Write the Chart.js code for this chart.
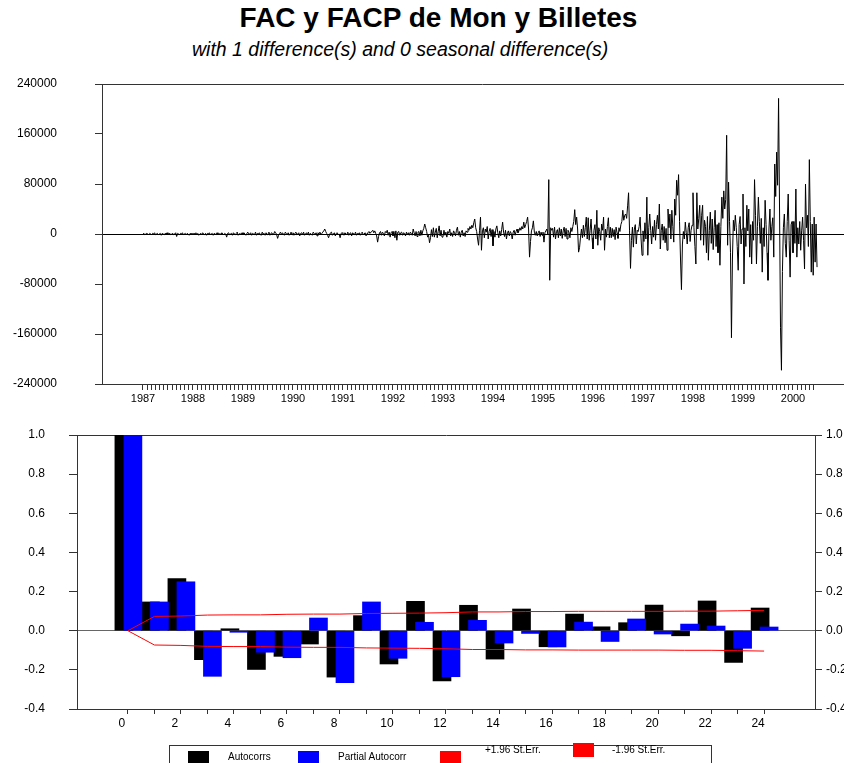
<!DOCTYPE html>
<html>
<head>
<meta charset="utf-8">
<script src="https://cdn.jsdelivr.net/npm/chart.js@4.4.1/dist/chart.umd.min.js"></script>
<style>
  html, body { margin: 0; padding: 0; background: #fff; }
  body { width: 844px; height: 763px; overflow: hidden; position: relative; font-family: "Liberation Sans", Arial, sans-serif; }
  #title { position: absolute; left: 0; top: 2px; width: 877px; text-align: center; font-weight: bold; font-size: 28px; }
  #subtitle { position: absolute; left: 192px; top: 38px; font-style: italic; font-size: 19.5px; }
  #seriesChart { position: absolute; left: 0; top: 70px; }
  #acfChart { position: absolute; left: 0; top: 420px; }
  #legend { position: absolute; left: 169px; top: 745px; width: 541px; height: 40px; border: 1px solid #333; font-size: 10px; }
  #legend .box { position: absolute; width: 21px; height: 14px; }
  #legend .txt { position: absolute; line-height: 12px; white-space: nowrap; color: #000; }
</style>
</head>
<body>
<div id="title">FAC y FACP de Mon y Billetes</div>
<div id="subtitle">with 1 difference(s) and 0 seasonal difference(s)</div>
<canvas id="seriesChart" width="870" height="340"></canvas>
<canvas id="acfChart" width="844" height="360"></canvas>
<div id="legend"></div>

<script>
// Differenced series, weekly, in thousands (one row per year)
const startYear = 1987;
const weeksPerYear = 52;
const weeklyChange = [
  // 1987
  0, 1, -1, 0, 1, 0, -1, 1, 0, -1, 1, 0, 2, -1, 0, 1, -1, 0, 1, -2, 1, 0, -1, 1, 0, 2, -1, 0, 1, -1,
  0, 1, -1, 0, 2, -4, 1, 0, -1, 1, 0, 2, -1, 0, 1, -1, 1, 0, -2, 1, 0, 1,
  // 1988
  -1, 1, 0, 2, -1, 1, -2, 0, 1, -1, 2, 0, -1, 1, -2, 1, 0, 2, -1, 0, 1, -2, 1, 0, -1, 2, 0, -1, 1, -1,
  2, 0, -1, 1, 0, -5, 1, 2, -1, 0, 1, -2, 2, 0, -1, 1, 3, -2, 0, 1, -1, 2,
  // 1989
  -1, 2, 0, -2, 1, 3, -1, 0, 2, -2, 1, 0, -1, 3, -2, 1, 0, 2, -1, -2, 3, 0, 1, -2, 2, -1, 0, 3, -2, 1,
  2, -1, 0, 4, 2, -1, -7, -2, 1, 3, -1, 2, 0, -2, 3, 1, -1, 2, -2, 0, 3, -1,
  // 1990
  2, -2, 1, 3, -1, 0, 2, -3, 1, 2, -1, 3, -2, 0, 2, -1, 3, -2, 1, 0, -2, 3, 1, -1, 2, -3, 2, 0, 3, -1,
  1, 3, 5, 8, 4, 1, -2, -6, -1, 2, 3, -2, 0, 2, -3, 1, 2, -1, 0, -6, 1, 2,
  // 1991
  1, -2, 2, 0, -1, 3, -2, 1, 2, -3, 2, 0, -1, 3, -2, 1, 0, 2, -2, 1, 3, -1, 0, 2, -3, 1, 2, 4, 1, 3,
  4, 6, 2, 5, 1, -3, -13, -4, 2, 4, -2, 3, 1, -3, 4, 2, 6, -2, 3, -5, 2, 4,
  // 1992
  -3, 4, -6, 5, -10, 3, 4, -2, 2, 3, -2, 2, 1, -3, 3, -1, 2, -2, 3, 1, -2, 8, 2, -3, 4, -4, 3, 4, -3, 6,
  -2, 5, 9, 16, 10, 4, -5, -2, -14, -6, 7, -4, 10, -5, 3, 9, -6, 4, 13, -3, 6, -5,
  // 1993
  -4, 6, -2, 3, -5, 4, 1, 8, -3, 2, -4, 5, 2, -3, 6, 11, -2, 4, -5, 3, 6, -3, 2, -4, 5, 3, 9, 6, 12, 8,
  14, 10, 18, 24, 10, 4, -8, -18, 6, 27, -26, 5, 10, -6, 8, 3, 12, -8, 4, 9, -4, 7,
  // 1994
  -19, 4, -5, 8, 13, 2, -6, 5, -3, 7, 19, 3, -4, 6, -8, 2, 5, -3, 4, 1, -8, 3, 6, -2, 4, 8, 2, 5, 10, 6,
  12, 8, 19, 10, 15, 20, 27, 8, -37, -12, 5, 10, 21, 3, -2, 4, -3, 2, 5, -4, 3, -2,
  // 1995
  3, -13, 2, 5, 8, 0, 87, -74, 10, 6, 9, -5, 11, -8, 4, 7, -6, 10, -3, 8, -7, 5, 11, -4, 9, -8, 6, 3, -6, 10,
  4, 12, 20, 39, 15, 27, 8, -29, -22, -5, 8, -6, 14, -4, 10, 27, -8, 26, -10, 6, 24, -6,
  // 1996
  -24, 6, 15, -8, 38, -18, 10, 4, -10, 16, 6, 27, -26, 8, -5, 12, 26, -6, 11, -6, 9, -4, 7, -9, 11, 2, -7, 10, 4, 15,
  20, 38, 22, 30, 32, 25, 45, 66, 5, -55, -10, 11, -21, 8, 15, -16, 6, 4, 12, 27, -8, -34,
  // 1997
  5, -12, 18, -8, 59, -34, 10, 32, 6, -16, 12, -5, 22, -10, 15, 30, 8, 48, -24, 6, 16, -10, 12, -14, 9, -26, 40, 10, 32, -8,
  38, 12, -13, 56, 30, 86, 62, 95, 20, -40, -89, -16, 4, -8, 19, 2, -16, 10, 18, -12, 6, 14,
  // 1998
  66, 10, -20, -48, 66, 8, 25, 46, -10, 30, 46, -18, 22, 12, -30, 28, -42, 6, 35, -15, 24, -25, 10, 38, -20, 15, -30, 18, -50, 12,
  59, 25, 69, 40, 55, 158, -18, 83, 20, -30, -166, -40, 22, 5, 30, 10, -20, -58, 15, 28, -16, 8,
  // 1999
  64, -80, 10, -20, 46, 5, 40, -37, 15, -48, 20, -10, 87, 30, -48, 12, 59, 20, -15, 25, -61, 10, -20, 54, 15, -30, -74, 8, 40, -10,
  12, 26, -37, 112, 60, 131, 78, 217, 40, -150, -218, -60, 10, 32, -15, -37, 20, 64, -10, -69, 15, 20,
  // 2000 (first half)
  -30, 20, -15, 72, -37, 10, -16, 20, -26, 5, 27, -10, -56, 80, 10, 30, -20, 119, 20, -61, 16, -66, 27, -45, 16, -53
];

const yearLabels = ['1987', '1988', '1989', '1990', '1991', '1992', '1993', '1994', '1995', '1996', '1997', '1998', '1999', '2000'];
const seriesTicks = [-240, -160, -80, 0, 80, 160, 240];

// ACF / PACF
const lags = [0, 1, 2, 3, 4, 5, 6, 7, 8, 9, 10, 11, 12, 13, 14, 15, 16, 17, 18, 19, 20, 21, 22, 23, 24];
const autocorrs = [1.0, 0.147, 0.267, -0.148, 0.010, -0.198, -0.131, -0.068, -0.237, 0.077, -0.170, 0.150, -0.257,
  0.130, -0.145, 0.111, -0.082, 0.085, 0.020, 0.041, 0.131, -0.026, 0.152, -0.162, 0.116];
const partialAutocorrs = [1.0, 0.147, 0.250, -0.233, -0.008, -0.110, -0.138, 0.065, -0.266, 0.147, -0.141, 0.043, -0.235,
  0.053, -0.063, -0.014, -0.083, 0.044, -0.055, 0.060, -0.017, 0.034, 0.024, -0.090, 0.019];
const seUpper = [0, 0.073, 0.075, 0.080, 0.081, 0.081, 0.084, 0.085, 0.085, 0.088, 0.089, 0.090, 0.092,
  0.096, 0.096, 0.098, 0.098, 0.099, 0.099, 0.099, 0.099, 0.100, 0.100, 0.102, 0.104];
const seLower = [0, -0.073, -0.075, -0.080, -0.081, -0.081, -0.084, -0.085, -0.085, -0.088, -0.089, -0.090, -0.092,
  -0.096, -0.096, -0.098, -0.098, -0.099, -0.099, -0.099, -0.099, -0.100, -0.100, -0.102, -0.104];
const acfTicks = [-0.4, -0.2, 0, 0.2, 0.4, 0.6, 0.8, 1.0];

Chart.defaults.font.family = '"Liberation Sans", Arial, sans-serif';
Chart.defaults.font.size = 12;
Chart.defaults.color = '#000';

const axisColor = '#333';

// tick padding is also added above/below a vertical axis; drop it so the plot box stays put
const pinYAxis = width => s => { s.width = width; s.paddingTop = 0; s.paddingBottom = 0; };

// monthly tick marks, Jan 1987 .. Jun 2000
const monthTicks = [];
yearLabels.forEach(y => {
  for (let m = 0; m < 12; m++) {
    const t = Number(y) + m / 12;
    if (t <= 2000 + 5 / 12 + 1e-9) monthTicks.push(t);
  }
});

// Series chart
const seriesChart = new Chart(document.getElementById('seriesChart'), {
  type: 'line',
  data: {
    datasets: [{
      data: weeklyChange.map((v, i) => ({ x: startYear + i / weeksPerYear, y: v })),
      borderColor: '#000',
      borderWidth: 1,
      pointRadius: 0,
      tension: 0,
      fill: false
    }]
  },
  options: {
    responsive: false,
    animation: false,
    devicePixelRatio: 1,
    layout: { padding: { top: 14, right: 8, bottom: 0, left: 0 } },
    plugins: { legend: { display: false }, tooltip: { enabled: false } },
    scales: {
      x: {
        type: 'linear',
        min: 1986.18,
        max: 2001.38,
        offset: false,
        afterBuildTicks: s => { s.ticks = monthTicks.map(v => ({ value: v })); },
        afterFit: s => { s.height = 26; },
        grid: { drawOnChartArea: false, tickLength: 6, color: axisColor },
        border: { color: axisColor },
        ticks: {
          autoSkip: false,
          maxRotation: 0,
          padding: 2,
          font: { size: 11 },
          callback: v => {
            const r = Math.round(v);
            return Math.abs(v - r) < 1e-6 ? yearLabels[r - startYear] : '';
          }
        }
      },
      y: {
        min: -240,
        max: 240,
        afterBuildTicks: s => { s.ticks = seriesTicks.map(v => ({ value: v })); },
        afterFit: pinYAxis(102),
        grid: {
          tickLength: 7,
          tickColor: axisColor,
          color: c => c.tick.value === 0 ? '#000' : (Math.abs(c.tick.value) === 240 ? axisColor : 'rgba(0,0,0,0)')
        },
        border: { color: axisColor },
        ticks: { padding: 38, callback: v => String(v * 1000) }
      }
    }
  }
});

// ACF / PACF chart
const xMin = -1.92, xMax = 25.92;
const acfShift = 0.151, pacfShift = -0.189;

const acfChart = new Chart(document.getElementById('acfChart'), {
  type: 'bar',
  data: {
    datasets: [
      {
        label: 'Autocorrs',
        data: lags.map((k, i) => ({ x: k, y: autocorrs[i] })),
        backgroundColor: '#000',
        xAxisID: 'xAcf', yAxisID: 'y',
        barThickness: 18, grouped: false, order: 3
      },
      {
        label: 'Partial Autocorr',
        data: lags.map((k, i) => ({ x: k, y: partialAutocorrs[i] })),
        backgroundColor: '#0000ff',
        xAxisID: 'xPacf', yAxisID: 'y',
        barThickness: 18, grouped: false, order: 2
      },
      {
        type: 'line',
        label: '+1.96 St.Err.',
        data: lags.map((k, i) => ({ x: k, y: seUpper[i] })),
        borderColor: '#ff0000', backgroundColor: '#ff0000',
        borderWidth: 1, pointRadius: 0, tension: 0,
        xAxisID: 'x', yAxisID: 'y', order: 0
      },
      {
        type: 'line',
        label: '-1.96 St.Err.',
        data: lags.map((k, i) => ({ x: k, y: seLower[i] })),
        borderColor: '#ff0000', backgroundColor: '#ff0000',
        borderWidth: 1, pointRadius: 0, tension: 0,
        xAxisID: 'x', yAxisID: 'y', order: 1
      }
    ]
  },
  options: {
    responsive: false,
    animation: false,
    devicePixelRatio: 1,
    layout: { padding: { top: 15, right: 0, bottom: 41, left: 0 } },
    plugins: { legend: { display: false }, tooltip: { enabled: false } },
    scales: {
      x: {
        type: 'linear',
        min: xMin, max: xMax,
        offset: false,
        afterBuildTicks: s => { s.ticks = lags.map(v => ({ value: v })); },
        afterFit: s => { s.height = 30; },
        grid: { drawOnChartArea: false, offset: false, tickLength: 5, color: axisColor },
        border: { color: axisColor },
        ticks: {
          autoSkip: false, maxRotation: 0, padding: 2, labelOffset: -6,
          callback: v => (v % 2 === 0 ? String(v) : '')
        }
      },
      xAcf: { type: 'linear', display: false, offset: false, min: xMin + acfShift, max: xMax + acfShift },
      xPacf: { type: 'linear', display: false, offset: false, min: xMin + pacfShift, max: xMax + pacfShift },
      y: {
        min: -0.4, max: 1.0,
        afterBuildTicks: s => { s.ticks = acfTicks.map(v => ({ value: v })); },
        afterFit: pinYAxis(77),
        grid: {
          tickLength: 8,
          tickColor: axisColor,
          color: c => Math.abs(c.tick.value) < 1e-9 ? '#666' : (Math.abs(c.tick.value - 1) < 1e-9 ? axisColor : 'rgba(0,0,0,0)')
        },
        border: { color: axisColor },
        ticks: { padding: 24, callback: v => v.toFixed(1) }
      },
      y2: {
        position: 'right',
        min: -0.4, max: 1.0,
        afterBuildTicks: s => { s.ticks = acfTicks.map(v => ({ value: v })); },
        afterFit: pinYAxis(29),
        grid: { drawOnChartArea: false, tickLength: 7, color: axisColor },
        border: { color: axisColor },
        ticks: { padding: 4, callback: v => v.toFixed(1) }
      }
    }
  }
});

// Legend box under the ACF chart
const legendSlots = [
  { box: [18, 5], text: [58, 5] },
  { box: [128, 5], text: [168, 5] },
  { box: [270, 5], text: [315, -2] },
  { box: [403, -3], text: [442, -2] }
];
const legend = document.getElementById('legend');
acfChart.data.datasets.forEach((ds, i) => {
  const slot = legendSlots[i];
  const box = document.createElement('div');
  box.className = 'box';
  box.style.left = slot.box[0] + 'px';
  box.style.top = slot.box[1] + 'px';
  box.style.background = ds.type === 'line' ? ds.borderColor : ds.backgroundColor;
  legend.appendChild(box);
  const txt = document.createElement('span');
  txt.className = 'txt';
  txt.style.left = slot.text[0] + 'px';
  txt.style.top = slot.text[1] + 'px';
  txt.textContent = ds.label;
  legend.appendChild(txt);
});
</script>
</body>
</html>
